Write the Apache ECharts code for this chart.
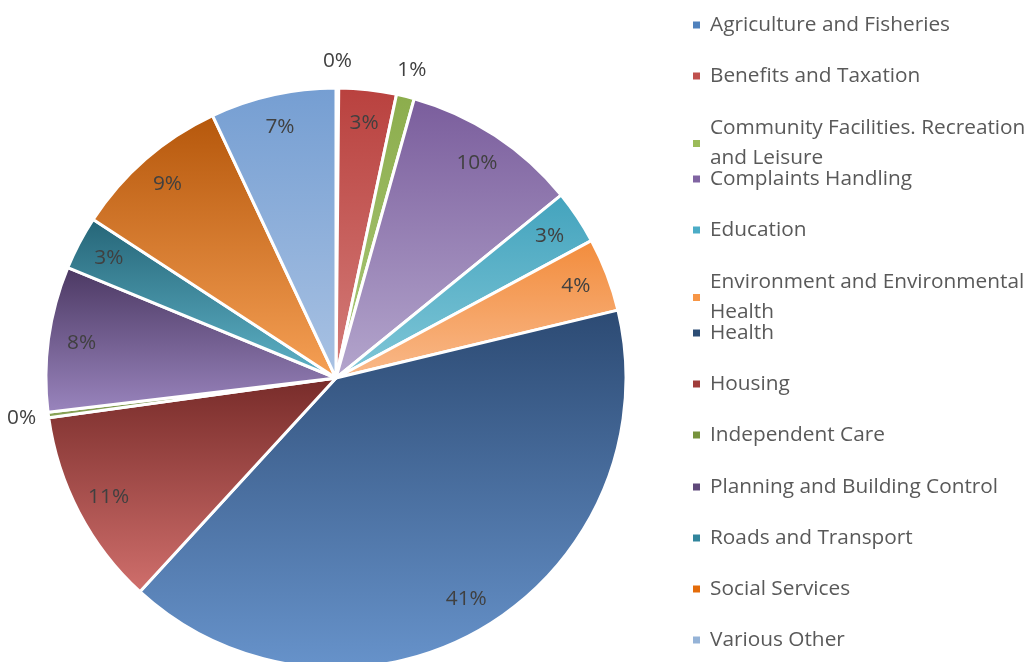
<!DOCTYPE html>
<html><head><meta charset="utf-8">
<script src="https://cdn.jsdelivr.net/npm/echarts@6/dist/echarts.min.js"></script>
<style>html,body{margin:0;padding:0;background:#fff}#c{width:1032px;height:662px}</style>
</head><body><div id="c"></div>
<script>
const categories = ['Agriculture and Fisheries','Benefits and Taxation','Community Facilities. Recreation and Leisure','Complaints Handling','Education','Environment and Environmental Health','Health','Housing','Independent Care','Planning and Building Control','Roads and Transport','Social Services','Various Other'];
const legendLabels = ['Agriculture and Fisheries','Benefits and Taxation','Community Facilities. Recreation\nand Leisure','Complaints Handling','Education','Environment and Environmental\nHealth','Health','Housing','Independent Care','Planning and Building Control','Roads and Transport','Social Services','Various Other'];
const values = [0.15, 3.2, 1.0, 9.8, 3.0, 4.1, 40.6, 11.0, 0.3, 8.1, 3.0, 8.8, 7.0];
const outsideLabel = [true, false, true, false, false, false, false, false, true, false, false, false, false];
const darkColors  = ['#4a76ad','#b9413e','#8cad4c','#7a5d9c','#43a3bd','#f28c3c','#2c4a73','#772b29','#5f7a2f','#4b3862','#256577','#b5570b','#759ed2'];
const lightColors = ['#7aa2d6','#d47d7a','#aac87a','#b4a6cd','#80c7d8','#f9b98a','#6793cb','#d06f6c','#8ea85c','#9a85be','#5fb3c8','#f6a055','#a9c2e3'];
const legendColors = ['#4f81bd','#c0504d','#9bbb59','#8064a2','#4bacc6','#f79646','#2c4d75','#a03c3a','#77933c','#5f497a','#31859c','#e46c0a','#95b3d7'];
const legendCenters = [25, 76, 128, 179, 230, 282, 333, 384, 435, 487, 538, 589, 640];
const twoLine = [false, false, true, false, false, true, false, false, false, false, false, false, false];

const cx = 336, cy = 378, R = 290;
const font = '"Open Sans", "DejaVu Sans", sans-serif';
const pct = p => Math.round(p.percent) + '%';

const mainData = categories.map((n,i)=>({
  name:n, value:values[i],
  itemStyle:{color:new echarts.graphic.LinearGradient(0,0,0,1,[{offset:0,color:darkColors[i]},{offset:1,color:lightColors[i]}])}
}));
const innerLabelData = categories.map((n,i)=>({name:n, value:values[i], label:{show:!outsideLabel[i]}}));
const outerLabelData = categories.map((n,i)=>({name:n, value:values[i], label:{show:outsideLabel[i]}}));

const legends = categories.map((n,i)=>({
  orient:'vertical', left:693, top: legendCenters[i] - 11 + (twoLine[i] ? 1 : 0), padding:0,
  itemWidth:7, itemHeight:7, icon:'rect', selectedMode:false,
  itemStyle:{borderWidth:0},
  data:[{name:n, itemStyle:{color:legendColors[i], borderWidth:0}}],
  formatter: () => legendLabels[i],
  textStyle:{fontFamily:font, fontSize:20.8, color:'#595959', lineHeight:30, height:22, padding:[0,0,0,5]}
}));

const chart = echarts.init(document.getElementById('c'));
chart.setOption({
  animation:false,
  legend: legends,
  series:[
    {type:'pie', center:[cx,cy], radius:[0,R], startAngle:90, clockwise:true,
     silent:true, data:mainData, label:{show:false}, labelLine:{show:false},
     itemStyle:{borderColor:'#fff', borderWidth:3}},
    {type:'pie', center:[cx,cy], radius:[0,R*1.75], startAngle:90, clockwise:true,
     silent:true, data:innerLabelData, itemStyle:{color:'rgba(0,0,0,0)'},
     label:{position:'inside', formatter:pct, fontFamily:font, fontSize:20.8, color:'#404040'},
     labelLine:{show:false}},
    {type:'pie', center:[cx,cy], radius:[0,(R+24)*2], startAngle:90, clockwise:true,
     silent:true, data:outerLabelData, itemStyle:{color:'rgba(0,0,0,0)'},
     label:{position:'inside', formatter:pct, fontFamily:font, fontSize:20.8, color:'#404040'},
     labelLine:{show:false}}
  ]
});
</script></body></html>
